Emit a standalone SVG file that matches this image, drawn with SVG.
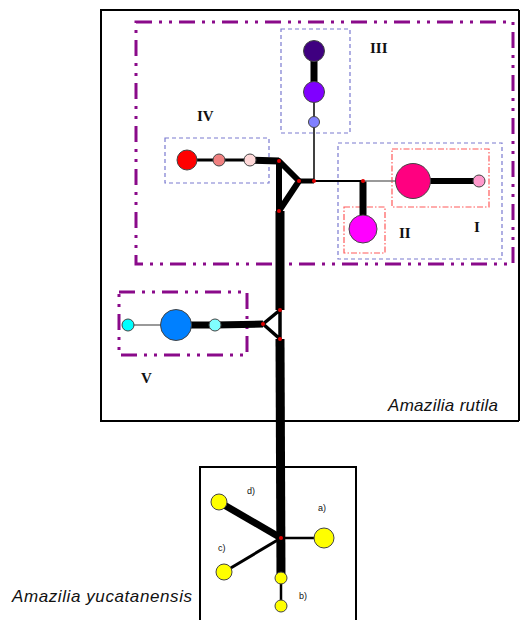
<svg xmlns="http://www.w3.org/2000/svg" width="521" height="620" viewBox="0 0 521 620">
<style>
.box{fill:none;stroke:#000;stroke-width:2}
.grp{fill:none;stroke:#8a0a8a;stroke-width:3;stroke-dasharray:16 7 3 7 3 7}
.hap{fill:none;stroke:#7a7ad0;stroke-width:1.2;stroke-dasharray:4 3}
.sub{fill:none;stroke:#ff5a5a;stroke-width:1.2;stroke-dasharray:6 2 1.5 2}
.e{stroke:#000;fill:none;stroke-linecap:butt}
.node{stroke:#444;stroke-width:1}
.mv{fill:#e00000}
.roman{font-family:"Liberation Serif",serif;font-weight:bold;font-size:15px;fill:#111}
.sp{font-family:"Liberation Sans",Arial,sans-serif;font-style:italic;font-size:17px;fill:#111}
.lab{font-family:"Liberation Sans",Arial,sans-serif;font-size:9px;fill:#111}
</style>
<rect width="521" height="620" fill="#fff"/>
<g id="frames">
<path class="box" d="M519,10 H101 V421 H519"/>
<line class="box" x1="519" y1="10" x2="519" y2="421"/>
<path class="box" d="M200,620 V467 H356 V620"/>
<rect class="grp" x="136" y="22" width="377" height="242"/>
<rect class="grp" x="119" y="292" width="128" height="63"/>
<rect class="hap" x="281" y="29" width="69" height="104"/>
<rect class="hap" x="165" y="138" width="104" height="45"/>
<rect class="hap" x="338" y="143" width="164" height="116"/>
<rect class="sub" x="392" y="149" width="97" height="58"/>
<rect class="sub" x="344" y="207" width="41" height="46"/>
</g>
<g id="connectors">
<line class="e" x1="314" y1="51" x2="314" y2="92" stroke-width="7"/>
<line class="e" x1="314" y1="92" x2="314" y2="122" stroke-width="1.5"/>
<line class="e" x1="314" y1="122" x2="314" y2="181" stroke-width="1.5"/>
<line class="e" x1="187" y1="160" x2="250" y2="160" stroke-width="3"/>
<path class="e" d="M250,160 L279,161" stroke-width="7"/>
<path class="e" d="M279,161 L299,181 L279,211 Z" stroke-width="6" stroke-linejoin="round"/>
<line class="e" x1="299" y1="181" x2="314" y2="181" stroke-width="5"/>
<line class="e" x1="314" y1="181" x2="363" y2="181" stroke-width="2"/>
<line class="e" x1="363" y1="181" x2="363" y2="229" stroke-width="7"/>
<line x1="363" y1="181" x2="413" y2="181" stroke="#777" stroke-width="1.5"/>
<line class="e" x1="413" y1="181" x2="479" y2="181" stroke-width="6"/>
<line class="e" x1="280" y1="211" x2="280" y2="310" stroke-width="9"/>
<path class="e" d="M280,310 L263,324 L280,339 Z" stroke-width="3.5" stroke-linejoin="round"/>
<line class="e" x1="263" y1="324" x2="215" y2="325" stroke-width="7"/>
<line class="e" x1="215" y1="325" x2="176" y2="325" stroke-width="7"/>
<line x1="176" y1="325" x2="128" y2="325" stroke="#777" stroke-width="1.5"/>
<line class="e" x1="280" y1="339" x2="281" y2="578" stroke-width="9"/>
<line class="e" x1="281" y1="578" x2="281" y2="606" stroke-width="2.5"/>
<line class="e" x1="281" y1="538" x2="324" y2="538" stroke-width="2.5"/>
<line class="e" x1="281" y1="538" x2="219" y2="502" stroke-width="7"/>
<line class="e" x1="281" y1="538" x2="224" y2="572" stroke-width="3"/>
</g>
<g id="III">
<circle class="node" cx="314" cy="51" r="10.5" fill="#3f0080"/>
<circle class="node" cx="314" cy="92" r="10.5" fill="#8000ff"/>
<circle class="node" cx="314" cy="122" r="5.5" fill="#8080ff"/>
<text class="roman" x="370" y="53">III</text>
</g>
<g id="IV">
<circle class="node" cx="187" cy="160" r="10" fill="#ff0000"/>
<circle class="node" cx="219" cy="160" r="6" fill="#f08080"/>
<circle class="node" cx="250" cy="160" r="6" fill="#ffd8d8"/>
<text class="roman" x="197" y="121">IV</text>
</g>
<g id="I">
<circle class="node" cx="413" cy="181" r="17.5" fill="#ff0080"/>
<circle class="node" cx="479" cy="181" r="6" fill="#ff99cc"/>
<text class="roman" x="474" y="232">I</text>
</g>
<g id="II">
<circle class="node" cx="363" cy="229" r="14" fill="#ff00ff"/>
<text class="roman" x="399" y="238">II</text>
</g>
<g id="V">
<circle class="node" cx="215" cy="325" r="6" fill="#80ffff"/>
<circle class="node" cx="176" cy="325" r="15.5" fill="#0080ff"/>
<circle class="node" cx="128" cy="325" r="6" fill="#00ffff"/>
<text class="roman" x="141" y="383">V</text>
</g>
<g id="yucatanensis">
<circle class="node" cx="324" cy="538" r="10" fill="#ffff00"/>
<circle class="node" cx="219" cy="502" r="8" fill="#ffff00"/>
<circle class="node" cx="224" cy="572" r="8" fill="#ffff00"/>
<circle class="node" cx="281" cy="578" r="6" fill="#ffff00"/>
<circle class="node" cx="281" cy="606" r="6" fill="#ffff00"/>
<text class="lab" x="247" y="494">d)</text>
<text class="lab" x="318" y="511">a)</text>
<text class="lab" x="218" y="551">c)</text>
<text class="lab" x="299" y="599">b)</text>
</g>
<g id="mvs">
<circle class="mv" cx="279" cy="161" r="2"/>
<circle class="mv" cx="299" cy="181" r="2"/>
<circle class="mv" cx="314" cy="181" r="2"/>
<circle class="mv" cx="279" cy="211" r="2"/>
<circle class="mv" cx="363" cy="181" r="2"/>
<circle class="mv" cx="280" cy="310" r="2"/>
<circle class="mv" cx="263" cy="324" r="2"/>
<circle class="mv" cx="280" cy="339" r="2"/>
<circle class="mv" cx="281" cy="538" r="2"/>
</g>
<g id="species">
<text class="sp" x="388" y="411" textLength="110">Amazilia rutila</text>
<text class="sp" x="12" y="602" textLength="180">Amazilia yucatanensis</text>
</g>
</svg>
